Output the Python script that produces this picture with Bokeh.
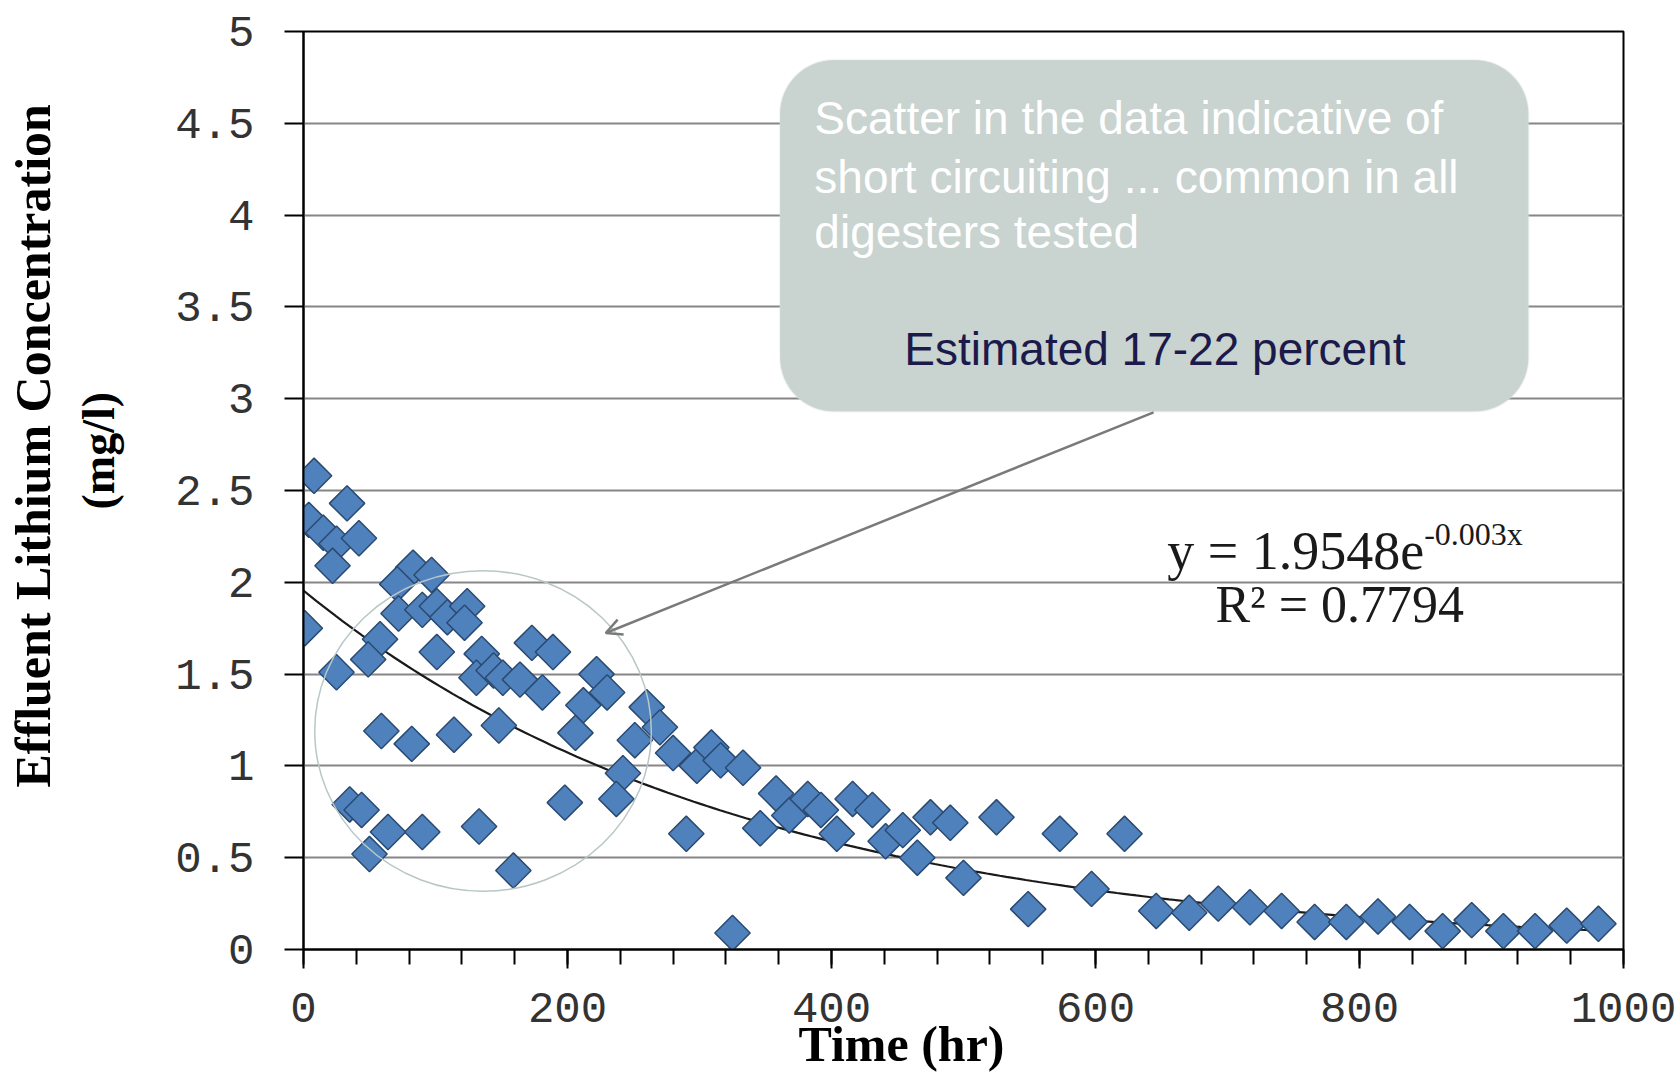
import numpy as np
from bokeh.plotting import figure
from bokeh.models import (FixedTicker, Range1d, Label, Arrow, OpenHead,
                          BoxAnnotation, ColumnDataSource, Title)
from bokeh.embed import file_html
from bokeh.resources import INLINE

# ---------------- data ----------------
time_hr = [8, 33, 4, 15, 25, 42, 22, 83, 71, 97, 72, 90, 101, 109, 124, 122,
           1, 58, 49, 101, 25, 135, 131, 144, 151, 164, 173, 189, 181, 222,
           230, 212, 260, 270, 280, 298, 251, 206, 148, 59, 82, 114, 242, 237,
           198, 35, 44, 64, 90, 133, 50, 159, 290,
           309, 316, 333, 325, 358, 368, 346, 382, 392, 404, 416, 431, 441,
           454, 475, 490, 465, 500, 525, 549, 573, 597, 622,
           646, 671, 693, 717, 741, 766, 790, 814, 838, 863, 885, 909, 933,
           957, 981]
conc_mgl = [2.58, 2.43, 2.34, 2.27, 2.21, 2.24, 2.09, 2.08, 1.99, 2.04, 1.83,
            1.85, 1.87, 1.81, 1.87, 1.78, 1.75, 1.69, 1.58, 1.62, 1.51, 1.61,
            1.48, 1.52, 1.48, 1.47, 1.67, 1.62, 1.40, 1.50, 1.40, 1.33, 1.32,
            1.21, 1.07, 1.00, 1.14, 1.18, 1.22, 1.19, 1.12, 1.17, 0.96, 0.82,
            0.80, 0.79, 0.76, 0.64, 0.64, 0.67, 0.52, 0.43, 0.63,
            1.10, 1.03, 0.99, 0.09, 0.85, 0.73, 0.66, 0.82, 0.76, 0.63, 0.82,
            0.76, 0.59, 0.65, 0.72, 0.69, 0.50, 0.39, 0.72, 0.22, 0.63, 0.33,
            0.63,
            0.21, 0.20, 0.25, 0.23, 0.21, 0.15, 0.15, 0.18, 0.15, 0.10, 0.16,
            0.10, 0.10, 0.13, 0.14]

y_ticks = [0, 0.5, 1, 1.5, 2, 2.5, 3, 3.5, 4, 4.5, 5]
y_tick_labels = ["0", "0.5", "1", "1.5", "2", "2.5", "3", "3.5", "4", "4.5", "5"]
x_ticks = [0, 200, 400, 600, 800, 1000]
x_tick_labels = ["0", "200", "400", "600", "800", "1000"]
x_minor_ticks = list(range(0, 1001, 40))

fit_a = 1.9548       # trendline coefficient shown on the chart
fit_b = -0.003       # trendline exponent shown on the chart
fit_r2 = "0.7794"

y_title_1 = "Effluent Lithium   Concentration"
y_title_2 = "(mg/l)"
x_title = "Time (hr)"
callout_lines = ["Scatter in the data indicative of",
                 "short circuiting ... common in all",
                 "digesters tested"]
callout_estimate = "Estimated 17-22 percent"

# ---------------- figure ----------------
p = figure(width=1679, height=1073, output_backend="svg", toolbar_location=None,
           x_range=Range1d(0, 1000), y_range=Range1d(0, 5),
           min_border_left=303, min_border_right=56, min_border_top=31,
           min_border_bottom=124)
p.background_fill_color = "white"
p.border_fill_color = "white"
p.outline_line_color = "black"
p.outline_line_width = 2

tick_font = "Liberation Mono"
for ax in (p.xaxis[0], p.yaxis[0]):
    ax.axis_line_color = "black"
    ax.axis_line_width = 2
    ax.major_tick_line_color = "black"
    ax.major_tick_line_width = 2
    ax.major_tick_in = 0
    ax.major_tick_out = 19
    ax.minor_tick_line_color = "black"
    ax.minor_tick_line_width = 2
    ax.minor_tick_in = 0
    ax.minor_tick_out = 15
    ax.major_label_text_font = tick_font
    ax.major_label_text_font_size = "44px"
    ax.major_label_text_color = "#333333"

p.xaxis.ticker = FixedTicker(ticks=x_ticks, minor_ticks=x_minor_ticks)
p.xaxis.major_label_overrides = {t: s for t, s in zip(x_ticks, x_tick_labels)}
p.xaxis.major_label_standoff = 24
p.yaxis.ticker = FixedTicker(ticks=y_ticks, minor_ticks=[])
p.yaxis.major_label_overrides = {t: s for t, s in zip(y_ticks, y_tick_labels)}
p.yaxis.major_label_standoff = 30

p.xgrid.grid_line_color = None
p.ygrid.ticker = FixedTicker(ticks=y_ticks)
p.ygrid.grid_line_color = "#868686"
p.ygrid.grid_line_width = 2

# trendline (from the fitted equation shown on the chart)
tx = np.linspace(0, max(time_hr), 200)
p.line(tx, fit_a * np.exp(fit_b * tx), line_color="#1a1a1a", line_width=2.2)

# data points: diamonds
src = ColumnDataSource(dict(t=time_hr, c=conc_mgl))
p.scatter("t", "c", source=src, marker="square", angle=np.pi / 4, size=25,
          fill_color="#4F81BD", line_color="#2A4A70", line_width=1.5)

# circle highlighting the scatter
p.ellipse(x=[136], y=[1.19], width=[255], height=[1.745], fill_color=None,
          line_color="#b8c7c6", line_width=1.5)

# callout box
p.add_layout(BoxAnnotation(left=361, right=928, top=4.845, bottom=2.93,
                           fill_color="#C9D3D0", fill_alpha=1.0,
                           line_color="#dbe2e0", line_width=2,
                           border_radius=54, level="annotation"))
for i, line in enumerate(callout_lines):
    p.add_layout(Label(x=387, y=[4.528, 4.21, 3.906][i], text=line,
                       text_font="Liberation Sans", text_font_size="46px",
                       text_color="white", text_baseline="middle",
                       text_align="left"))
p.add_layout(Label(x=645, y=3.273, text=callout_estimate,
                   text_font="Liberation Sans", text_font_size="46px",
                   text_color="#1b1a4a", text_baseline="middle",
                   text_align="center"))

p.add_layout(Arrow(end=OpenHead(size=16, line_color="#7a7a7a", line_width=2.5),
                   x_start=644, y_start=2.926, x_end=229, y_end=1.724,
                   line_color="#7a7a7a", line_width=2.5))

# equation
p.add_layout(Label(x=849, y=2.169, text=f"y = {fit_a}e",
                   text_font="Liberation Serif", text_font_size="54px",
                   text_color="#1a1a1a", text_baseline="middle",
                   text_align="right"))
p.add_layout(Label(x=849, y=2.262, text=f"{fit_b}x",
                   text_font="Liberation Serif", text_font_size="32px",
                   text_color="#1a1a1a", text_baseline="middle",
                   text_align="left"))
p.add_layout(Label(x=785, y=1.877, text=f"R² = {fit_r2}",
                   text_font="Liberation Serif", text_font_size="52px",
                   text_color="#1a1a1a", text_baseline="middle",
                   text_align="center"))

# axis titles (as side titles so they sit outside the frame)
p.add_layout(Title(text=y_title_2, align="left", offset=440, standoff=97,
                   text_font="Liberation Serif", text_font_style="bold",
                   text_font_size="46px", text_color="black"), "left")
p.add_layout(Title(text=y_title_1, align="left", offset=162, standoff=-76,
                   text_font="Liberation Serif", text_font_style="bold",
                   text_font_size="50px", text_color="black"), "left")
p.add_layout(Title(text=x_title, align="left", offset=495, standoff=-18,
                   vertical_align="top",
                   text_font="Liberation Serif", text_font_style="bold",
                   text_font_size="50px", text_color="black"), "below")

open("out.html", "w").write(file_html(p, INLINE))
